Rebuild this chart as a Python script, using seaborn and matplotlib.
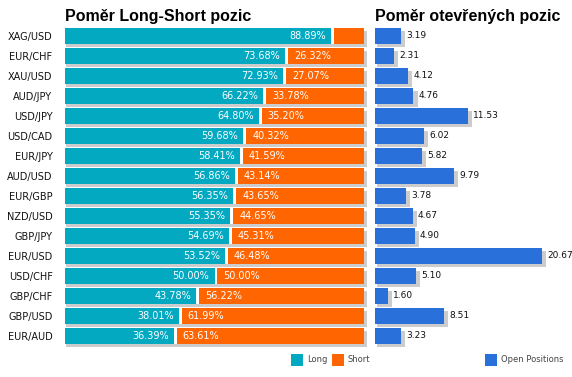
import numpy as np
import matplotlib.pyplot as plt
import seaborn as sns
from matplotlib.patches import Rectangle

# data
pairs = ["XAG/USD", "EUR/CHF", "XAU/USD", "AUD/JPY", "USD/JPY", "USD/CAD", "EUR/JPY", "AUD/USD",
         "EUR/GBP", "NZD/USD", "GBP/JPY", "EUR/USD", "USD/CHF", "GBP/CHF", "GBP/USD", "EUR/AUD"]
long_pct = [88.89, 73.68, 72.93, 66.22, 64.80, 59.68, 58.41, 56.86,
            56.35, 55.35, 54.69, 53.52, 50.00, 43.78, 38.01, 36.39]
short_pct = [11.11, 26.32, 27.07, 33.78, 35.20, 40.32, 41.59, 43.14,
             43.65, 44.65, 45.31, 46.48, 50.00, 56.22, 61.99, 63.61]
open_pos = [3.19, 2.31, 4.12, 4.76, 11.53, 6.02, 5.82, 9.79,
            3.78, 4.67, 4.90, 20.67, 5.10, 1.60, 8.51, 3.23]

TEAL = "#03a9c1"
ORANGE = "#ff6501"
BLUE = "#2a70da"
SHADOW = "#cccccc"

sns.set_style("white")
plt.rcParams['font.family'] = ['DejaVu Sans']
plt.rcParams['text.color'] = 'black'

W, H = 572, 377
fig = plt.figure(figsize=(W / 100, H / 100), dpi=100)


def box(x0, x1, y0, y1):
    # pixel box -> figure coords
    return [x0 / W, 1 - y1 / H, (x1 - x0) / W, (y1 - y0) / H]


ax1 = fig.add_axes(box(65, 368, 26, 350))
ax2 = fig.add_axes(box(375, 572, 26, 350))

pos = np.arange(len(pairs))
longs = np.array(long_pct)
shorts = np.array(short_pct)
total = longs + shorts
opens = np.array(open_pos)

bar_kw = dict(saturation=1, width=0.8, errorbar=None, linewidth=0)

# --- left panel: long / short ratio
ax1.barh(pos + 0.17, total + 0.5, left=0.5, height=0.8, color=SHADOW, linewidth=0, zorder=0)
sns.barplot(x=total, y=pairs, color=ORANGE, ax=ax1, **bar_kw)
sns.barplot(x=longs + 1, y=pairs, color="white", ax=ax1, **bar_kw)
sns.barplot(x=longs, y=pairs, color=TEAL, ax=ax1, **bar_kw)

for i, (l, s) in enumerate(zip(long_pct, short_pct)):
    ax1.text(l - 1.7, i, f"{l:.2f}%", ha="right", va="center", color="white", fontsize=7)
    if s > 15:
        ax1.text(l + 3, i, f"{s:.2f}%", ha="left", va="center", color="white", fontsize=7)

ax1.set_xlim(0, 303 / 2.99)
ax1.set_ylim(15.7, -0.5)

# --- right panel: open positions
ax2.barh(pos + 0.17, opens + 0.3, left=0.2, height=0.8, color=SHADOW, linewidth=0, zorder=0)
sns.barplot(x=opens, y=pairs, color=BLUE, ax=ax2, **bar_kw)
for i, v in enumerate(open_pos):
    ax2.text(v + 0.65, i, f"{v:.2f}", ha="left", va="center", color="#111111", fontsize=6.5)

ax2.set_xlim(0, 197 / 8.08)
ax2.set_ylim(15.7, -0.5)

for ax in (ax1, ax2):
    ax.set(xlabel="", ylabel="")
    ax.set_xticks([])
    for sp in ax.spines.values():
        sp.set_visible(False)
ax1.tick_params(axis="y", length=0, pad=9, labelsize=7, labelcolor="#111111")
ax2.set_yticks([])

# titles
fig.text(65 / W, 1 - 21 / H, "Poměr Long-Short pozic", fontsize=11.5, fontweight="bold",
         family="Liberation Sans", va="baseline", color="black")
fig.text(375 / W, 1 - 21 / H, "Poměr otevřených pozic", fontsize=11.5, fontweight="bold",
         family="Liberation Sans", va="baseline", color="black")

# legend
for x, col, lab in [(291, TEAL, "Long"), (332, ORANGE, "Short"), (485, BLUE, "Open Positions")]:
    fig.patches.append(Rectangle((x / W, 1 - 366 / H), 12 / W, 12 / H,
                                 transform=fig.transFigure, color=col, linewidth=0))
    fig.text((x + 16) / W, 1 - 360 / H, lab, fontsize=6, color="#444444", va="center")

fig.savefig("out.png", dpi=100)
